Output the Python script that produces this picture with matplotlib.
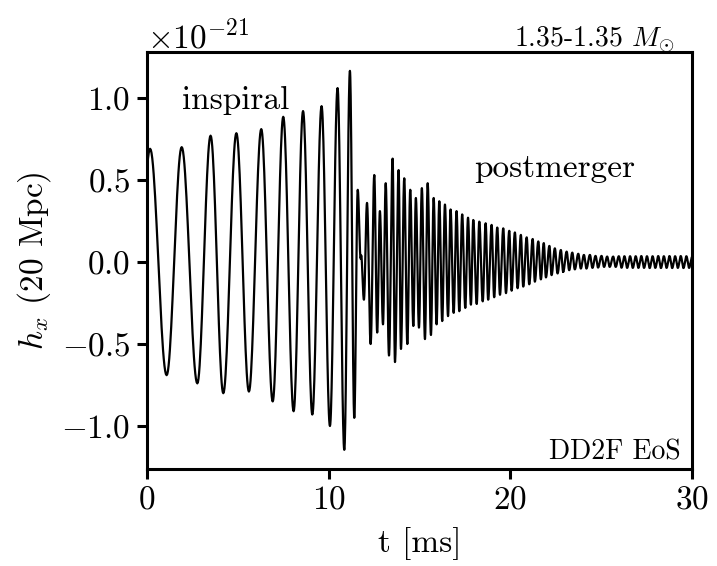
import numpy as np
import matplotlib
matplotlib.use('Agg')
import matplotlib.pyplot as plt

plt.rcParams['font.family'] = 'serif'
plt.rcParams['font.serif'] = ['cmr10']
plt.rcParams['mathtext.fontset'] = 'cm'
plt.rcParams['axes.formatter.use_mathtext'] = True
plt.rcParams['font.size'] = 24

# extrema of the waveform (time in ms, strain in units of 1e-21)
t_ext = [-0.70, 0.17, 1.08, 1.91, 2.77, 3.50, 4.20, 4.92, 5.61, 6.29, 6.92,
         7.50, 8.07, 8.59, 9.10, 9.61, 10.07, 10.49, 10.86, 11.17, 11.41,
         11.60, 11.76, 11.79, 11.94, 12.11, 12.31, 12.51, 12.67, 12.82, 12.99,
         13.14, 13.32, 13.52, 13.65, 13.85, 13.98, 14.16, 14.33, 14.49, 14.66,
         14.80, 14.97, 15.13, 15.30, 15.45, 15.63, 15.78, 15.94, 16.09, 16.25,
         16.40, 16.57, 16.71, 16.88, 17.04, 17.19, 17.35, 17.52, 17.67, 17.83,
         17.96, 18.15, 18.29, 18.48, 18.64, 18.78, 18.97, 19.11, 19.28, 19.43,
         19.61, 19.76, 19.94, 20.07, 20.25, 20.40, 20.58, 20.71, 20.90, 21.04,
         21.23, 21.35, 21.54, 21.68, 21.84, 21.96, 22.15, 22.27, 22.45, 22.60,
         22.78, 22.91, 23.10, 23.24, 23.41, 23.55, 23.74, 23.88, 24.05, 24.19,
         24.38, 24.52, 24.69, 24.83, 25.02, 25.16, 25.33, 25.47, 25.66, 25.80,
         25.97, 26.12, 26.28, 26.43, 26.59, 26.74, 26.90, 27.05, 27.21, 27.36,
         27.52, 27.67, 27.83, 27.98, 28.14, 28.29, 28.45, 28.60, 28.76, 28.91,
         29.07, 29.22, 29.38, 29.53, 29.69, 29.84, 30.00]
h_ext = [-0.68, 0.69, -0.69, 0.70, -0.74, 0.77, -0.80, 0.785, -0.79, 0.81, -0.85,
         0.885, -0.91, 0.92, -0.93, 0.95, -1.00, 1.06, -1.145, 1.165, -0.95,
         0.44, 0.02, 0.04, -0.23, 0.36, -0.50, 0.53, -0.43, 0.31, -0.38,
         0.48, -0.57, 0.63, -0.61, 0.56, -0.53, 0.51, -0.50, 0.44, -0.39,
         0.39, -0.40, 0.45, -0.47, 0.48, -0.445, 0.39, -0.38, 0.37, -0.36,
         0.35, -0.33, 0.32, -0.31, 0.31, -0.30, 0.29, -0.28, 0.27, -0.26,
         0.256, -0.256, 0.246, -0.24, 0.236, -0.23, 0.226, -0.215, 0.21, -0.20,
         0.205, -0.19, 0.19, -0.175, 0.18, -0.16, 0.165, -0.15, 0.15, -0.136,
         0.14, -0.12, 0.125, -0.106, 0.115, -0.094, 0.098, -0.08, 0.083, -0.07,
         0.073, -0.06, 0.063, -0.05, 0.057, -0.045, 0.05, -0.04, 0.043, -0.04,
         0.043, -0.036, 0.037, -0.034, 0.037, -0.03, 0.033, -0.03, 0.033, -0.03,
         0.035, -0.035, 0.035, -0.036, 0.035, -0.036, 0.035, -0.036, 0.036, -0.036,
         0.035, -0.037, 0.035, -0.036, 0.036, -0.037, 0.035, -0.036, 0.036, -0.037,
         0.035, -0.036, 0.036, -0.037, 0.035, -0.036, 0.030]

# join neighbouring extrema with half cosine waves
t_line = []
h_line = []
for i in range(len(t_ext) - 1):
    s = np.linspace(0, 1, 24)
    t_line.extend(t_ext[i] + s * (t_ext[i + 1] - t_ext[i]))
    h_line.extend(h_ext[i] + (h_ext[i + 1] - h_ext[i]) * (1 - np.cos(np.pi * s)) / 2)
t_line = np.array(t_line)
h_line = np.array(h_line) * 1e-21

fig = plt.figure(figsize=(7.17, 5.66), dpi=100, facecolor='white')
ax = fig.add_axes([147 / 717, 1 - 469 / 566, 545 / 717, 417 / 566])
ax.plot(t_line, h_line, color='k', lw=1.6)

ax.set_xlim(0, 30)
ax.set_ylim(-1.262e-21, 1.28e-21)
ax.set_xticks([0, 10, 20, 30])
ax.set_yticks(np.array([-1.0, -0.5, 0.0, 0.5, 1.0]) * 1e-21)
for sp in ax.spines.values():
    sp.set_linewidth(2.2)
ax.tick_params(direction='out', length=7, width=2.2, pad=5, top=False, right=False)

ax.set_xlabel('t [ms]', labelpad=9)
ax.set_ylabel(r'$h_x$ (20 Mpc)', labelpad=6)

ax.text(4.9, 0.93e-21, 'inspiral', ha='center', va='baseline')
ax.text(18.0, 0.52e-21, 'postmerger', ha='left', va='baseline')
ax.text(29.35, -1.207e-21, 'DD2F EoS', ha='right', va='baseline', fontsize=20)
ax.text(0.967, 1.013, r'1.35-1.35 $M_{\odot}$', transform=ax.transAxes,
        ha='right', va='baseline', fontsize=20)

fig.savefig('out.png', dpi=100, facecolor='white')
